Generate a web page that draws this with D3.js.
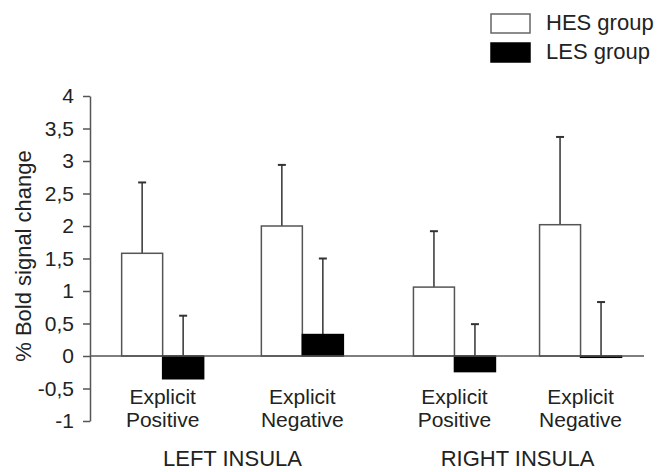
<!DOCTYPE html>
<html>
<head>
<meta charset="utf-8">
<script src="https://cdn.jsdelivr.net/npm/d3@7"></script>
<style>
  body { margin: 0; background: #fff; }
  text { font-family: "Liberation Sans", Arial, Helvetica, sans-serif; fill: #222; }
</style>
</head>
<body>
<script>
// data
var regions = ["LEFT INSULA", "RIGHT INSULA"];
var conditions = ["Explicit Positive", "Explicit Negative"];
var groups = ["HES group", "LES group"];
var hesMean = [1.58, 2.0, 1.06, 2.02];
var hesErr = [1.09, 0.94, 0.86, 1.35];
var lesMean = [-0.35, 0.33, -0.24, -0.02];
var lesErr = [0.97, 1.17, 0.73, 0.85];
var yTicks = [4, 3.5, 3, 2.5, 2, 1.5, 1, 0.5, 0, -0.5, -1];

var width = 670, height = 472;

var svg = d3.select("body").append("svg")
    .attr("width", width)
    .attr("height", height);

// scales
var x0 = d3.scaleBand().domain(regions).range([90, 660]);
// the two regions are not spaced quite the same in the original figure
var innerPad = {"LEFT INSULA": 0.52, "RIGHT INSULA": 0.63};
var x1 = {};
regions.forEach(function(r) {
    x1[r] = d3.scalePoint().domain(conditions).range([0, x0.bandwidth()]).padding(innerPad[r]);
});
var x2 = d3.scaleBand().domain(groups).range([-41, 41]);
var y = d3.scaleLinear().domain([-1, 4]).range([421, 96]);

// flatten into rows
var rows = [];
regions.forEach(function(r, i) {
    conditions.forEach(function(c, j) {
        var k = i * conditions.length + j;
        rows.push({region: r, cond: c, group: groups[0], mean: hesMean[k], err: hesErr[k]});
        rows.push({region: r, cond: c, group: groups[1], mean: lesMean[k], err: lesErr[k]});
    });
});
function cx(d) { return x0(d.region) + x1[d.region](d.cond); }
function mid(d) { return cx(d) + x2(d.group) + x2.bandwidth() / 2; }

// y axis
var yAxis = svg.append("g")
    .attr("transform", "translate(90,0)")
    .call(d3.axisLeft(y).tickValues(yTicks).tickSize(7).tickSizeOuter(0).tickPadding(9)
        .tickFormat(function(d) { return String(d).replace(".", ","); }));
yAxis.select(".domain").attr("stroke", "#555").attr("stroke-width", 1.5);
yAxis.selectAll(".tick line").attr("stroke", "#555").attr("stroke-width", 1.5);
yAxis.selectAll(".tick text")
    .style("font-size", "21px")
    .style("font-family", "'Liberation Sans', Arial, sans-serif")
    .attr("fill", "#222");

svg.append("text")
    .attr("transform", "translate(31,256) rotate(-90)")
    .attr("text-anchor", "middle")
    .style("font-size", "22px")
    .text("% Bold signal change");

// error bars (stem + cap)
var eb = svg.selectAll(".err").data(rows).enter().append("g").attr("class", "err");
eb.append("line")
    .attr("x1", mid).attr("x2", mid)
    .attr("y1", function(d) { return y(d.mean); })
    .attr("y2", function(d) { return y(d.mean + d.err); })
    .attr("stroke", "#333").attr("stroke-width", 1.5);
eb.append("line")
    .attr("x1", function(d) { return mid(d) - 4; })
    .attr("x2", function(d) { return mid(d) + 4; })
    .attr("y1", function(d) { return y(d.mean + d.err); })
    .attr("y2", function(d) { return y(d.mean + d.err); })
    .attr("stroke", "#333").attr("stroke-width", 2);

// bars
svg.selectAll(".bar").data(rows).enter().append("rect")
    .attr("class", "bar")
    .attr("x", function(d) { return cx(d) + x2(d.group); })
    .attr("width", x2.bandwidth())
    .attr("y", function(d) { return y(Math.max(0, d.mean)); })
    .attr("height", function(d) { return Math.max(1, Math.abs(y(d.mean) - y(0))); })
    .attr("fill", function(d) { return d.group === groups[0] ? "#fff" : "#000"; })
    .attr("stroke", function(d) { return d.group === groups[0] ? "#555" : "#000"; })
    .attr("stroke-width", 1.5);

// zero line
svg.append("line")
    .attr("x1", 90).attr("x2", 644)
    .attr("y1", y(0)).attr("y2", y(0))
    .attr("stroke", "#555").attr("stroke-width", 1.5);

// condition labels, two lines each
var labelRows = rows.filter(function(d) { return d.group === groups[0]; });
svg.selectAll(".cond1").data(labelRows).enter().append("text")
    .attr("class", "cond1")
    .attr("text-anchor", "middle")
    .attr("x", cx).attr("y", 404)
    .style("font-size", "21px")
    .text(function(d) { return d.cond.split(" ")[0]; });
svg.selectAll(".cond2").data(labelRows).enter().append("text")
    .attr("class", "cond2")
    .attr("text-anchor", "middle")
    .attr("x", cx).attr("y", 427)
    .style("font-size", "21px")
    .text(function(d) { return d.cond.split(" ")[1]; });

// region labels
svg.selectAll(".region").data(regions).enter().append("text")
    .attr("class", "region")
    .attr("text-anchor", "middle")
    .attr("x", function(d) { return x0(d) + x0.bandwidth() / 2; })
    .attr("y", 466)
    .style("font-size", "22px")
    .text(function(d) { return d; });

// legend
var leg = svg.selectAll(".leg").data(groups).enter().append("g")
    .attr("class", "leg")
    .attr("transform", function(d, i) { return "translate(491," + (14 + i * 29) + ")"; });
leg.append("rect")
    .attr("width", 39).attr("height", 19)
    .attr("fill", function(d, i) { return i === 0 ? "#fff" : "#000"; })
    .attr("stroke", function(d, i) { return i === 0 ? "#666" : "#000"; })
    .attr("stroke-width", 1.5);
leg.append("text")
    .attr("x", 55).attr("y", 16)
    .style("font-size", "22px")
    .text(function(d) { return d; });
</script>
</body>
</html>
